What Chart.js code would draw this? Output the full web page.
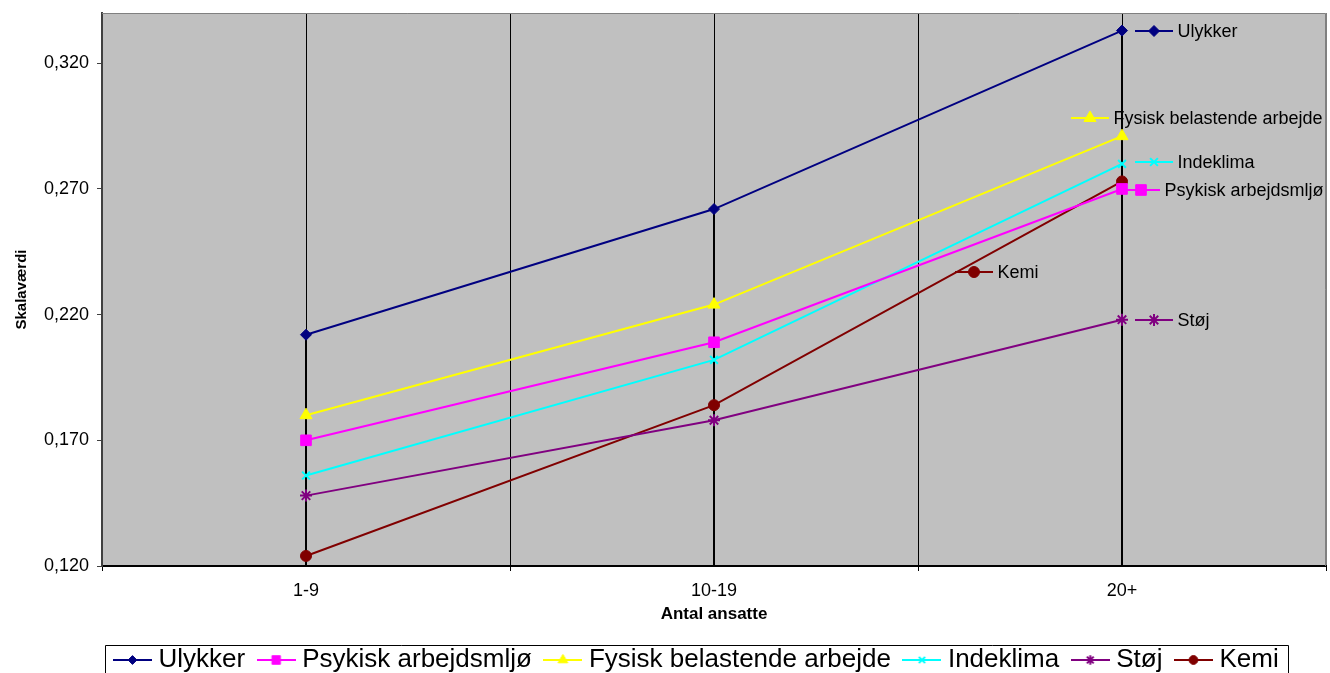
<!DOCTYPE html>
<html><head><meta charset="utf-8">
<script src="https://cdn.jsdelivr.net/npm/chart.js@4/dist/chart.umd.min.js"></script>
<style>html,body{margin:0;padding:0;background:#fff;overflow:hidden}
#wrap{position:relative;width:1330px;height:683px}</style>
</head><body><div id="wrap"><canvas id="c" width="1330" height="683"></canvas></div>
<script>
// ---- data ----
const categories = ['1-9', '10-19', '20+'];
const seriesNames = ['Ulykker', 'Psykisk arbejdsmljø', 'Fysisk belastende arbejde', 'Indeklima', 'Støj', 'Kemi'];
const ulykker   = [0.212, 0.262, 0.333];
const psykisk   = [0.170, 0.209, 0.270];
const fysisk    = [0.180, 0.224, 0.291];
const indeklima = [0.156, 0.202, 0.280];
const stoej     = [0.148, 0.178, 0.218];
const kemi      = [0.124, 0.184, 0.273];
const yTicks = [0.120, 0.170, 0.220, 0.270, 0.320];
const yMin = 0.12, yMax = 0.34;

// ---- styles ----
const FONT = "'Liberation Sans', Arial, sans-serif";
const seriesValues = [ulykker, psykisk, fysisk, indeklima, stoej, kemi];
const styles = [
  {color: '#000080', point: 'rectRot',  r: 5.5, bw: 1},
  {color: '#FF00FF', point: 'rect',     r: 7.5, bw: 1},
  {color: '#FFFF00', point: 'triangle', r: 7,   bw: 1},
  {color: '#00FFFF', point: 'crossRot', r: 5.5, bw: 2},
  {color: '#800080', point: 'star',     r: 6,   bw: 2},
  {color: '#800000', point: 'circle',   r: 5.5, bw: 1}
];
// offsets of the series-name labels from the last point (px)
const labelOffsets = [[32, 0], [19, 1], [-32, -18], [32, -2], [32, 0], [-148, 91]];

function makeKey(s, w, scale) {
  const c = document.createElement('canvas');
  c.width = w; c.height = 18;
  const g = c.getContext('2d');
  g.strokeStyle = s.color; g.lineWidth = 2;
  g.beginPath(); g.moveTo(0, 9); g.lineTo(w, 9); g.stroke();
  g.fillStyle = s.color; g.strokeStyle = s.color; g.lineWidth = s.bw;
  if (Chart.helpers && Chart.helpers.drawPoint) {
    Chart.helpers.drawPoint(g, {pointStyle: s.point, radius: s.r * scale, borderWidth: s.bw, rotation: 0}, w / 2, 9);
  } else {
    g.beginPath(); g.arc(w / 2, 9, s.r * scale, 0, Math.PI * 2); g.fill();
  }
  return c;
}
const legendKeys = styles.map(s => makeKey(s, 39, 0.8));
const plotKeys = styles.map(s => makeKey(s, 38, 1));

const datasets = seriesValues.map((vals, i) => ({
  label: seriesNames[i],
  data: vals.map((v, j) => ({x: j, y: v})),
  borderColor: styles[i].color,
  backgroundColor: styles[i].color,
  pointStyle: styles[i].point,
  pointRadius: styles[i].r,
  pointHoverRadius: styles[i].r,
  pointBorderWidth: styles[i].bw,
  pointBorderColor: styles[i].color,
  pointBackgroundColor: styles[i].color,
  borderWidth: 2,
  tension: 0,
  clip: false
}));

const plotDecor = {
  id: 'plotDecor',
  beforeDraw(chart) {
    const {ctx, chartArea: a} = chart;
    ctx.save();
    ctx.fillStyle = '#C0C0C0';
    ctx.fillRect(a.left, a.top, a.right - a.left, a.bottom - a.top);
    ctx.restore();
  },
  beforeDatasetsDraw(chart) {
    const {ctx, chartArea: a} = chart;
    const xs = chart.scales.x, ys = chart.scales.y;
    ctx.save();
    ctx.strokeStyle = '#808080'; ctx.lineWidth = 1;
    ctx.beginPath();
    ctx.moveTo(a.left, a.top + 0.5); ctx.lineTo(a.right - 0.5, a.top + 0.5); ctx.lineTo(a.right - 0.5, a.bottom);
    ctx.stroke();
    // drop lines from highest point to the category axis
    ctx.strokeStyle = '#000'; ctx.lineWidth = 2;
    categories.forEach((c, j) => {
      const top = Math.max(...seriesValues.map(s => s[j]));
      const x = Math.round(xs.getPixelForValue(j));
      ctx.beginPath();
      ctx.moveTo(x, ys.getPixelForValue(top));
      ctx.lineTo(x, a.bottom);
      ctx.stroke();
    });
    ctx.restore();
  },
  afterDatasetsDraw(chart) {
    const ctx = chart.ctx;
    ctx.save();
    ctx.font = '18px ' + FONT;
    ctx.fillStyle = '#000';
    ctx.textBaseline = 'middle';
    ctx.textAlign = 'left';
    chart.data.datasets.forEach((ds, i) => {
      const meta = chart.getDatasetMeta(i);
      const p = meta.data[meta.data.length - 1];
      const [dx, dy] = labelOffsets[i];
      const cx = p.x + dx, cy = p.y + dy;
      const k = plotKeys[i];
      ctx.drawImage(k, Math.round(cx - k.width / 2), Math.round(cy - k.height / 2));
      ctx.fillText(ds.label, cx + 23.5, cy + 1);
    });
    ctx.restore();
  },
  afterLayout(chart) {
    const lg = chart.legend;
    if (lg) { lg.left = 101.5; }
  },
  afterDraw(chart) {
    const lg = chart.legend;
    if (!lg || !lg.legendHitBoxes || !lg.legendHitBoxes.length) return;
    const hb = lg.legendHitBoxes;
    const first = hb[0], last = hb[hb.length - 1];
    const ctx = chart.ctx;
    ctx.save();
    ctx.strokeStyle = '#000'; ctx.lineWidth = 1;
    const l = Math.round(first.left - 14.5) + 0.5;
    const r = Math.round(last.left + last.width + 9) + 0.5;
    const t = Math.round(first.top - 2) + 0.5;
    ctx.beginPath();
    ctx.moveTo(l, chart.height + 5); ctx.lineTo(l, t); ctx.lineTo(r, t); ctx.lineTo(r, chart.height + 5);
    ctx.stroke();
    ctx.restore();
  }
};

new Chart(document.getElementById('c'), {
  type: 'line',
  data: {datasets},
  plugins: [plotDecor],
  options: {
    responsive: false,
    devicePixelRatio: 1,
    animation: false,
    events: [],
    layout: {autoPadding: false, padding: {top: 13, right: 4, left: 0, bottom: 0}},
    plugins: {
      tooltip: {enabled: false},
      legend: {
        position: 'bottom',
        align: 'start',
        labels: {
          usePointStyle: true,
          pointStyleWidth: 26,
          padding: 18,
          color: '#000',
          font: {family: FONT, size: 26},
          generateLabels: chart => Chart.defaults.plugins.legend.labels.generateLabels(chart)
            .map(it => Object.assign({}, it, {pointStyle: legendKeys[it.datasetIndex]}))
        }
      }
    },
    scales: {
      x: {
        type: 'linear',
        min: -0.5,
        max: categories.length - 0.5,
        afterBuildTicks: s => {
          const t = [];
          for (let k = -1; k <= (categories.length - 1) * 2 + 1; k++) t.push({value: k / 2});
          s.ticks = t;
        },
        afterFit: s => { s.height = 63; s.paddingLeft = 0; s.paddingRight = 0; },
        ticks: {
          autoSkip: false, maxRotation: 0, minRotation: 0, padding: 9,
          color: '#000', font: {family: FONT, size: 18},
          callback: v => Number.isInteger(v) ? categories[v] : ''
        },
        grid: {
          color: ctx => (ctx.tick && (ctx.tick.value === categories.length - 0.5)) ? '#808080' : '#000',
          lineWidth: 1,
          drawTicks: true,
          tickLength: 5,
          tickColor: ctx => (ctx.tick && Number.isInteger(ctx.tick.value)) ? 'rgba(0,0,0,0)' : '#000'
        },
        border: {display: true, color: '#000', width: 2},
        title: {display: true, text: 'Antal ansatte', color: '#000',
          font: {family: FONT, size: 17, weight: 'bold'}, padding: {top: 0, bottom: 4}}
      },
      y: {
        min: yMin, max: yMax,
        afterBuildTicks: s => { s.ticks = yTicks.map(v => ({value: v})); },
        afterFit: s => { s.width = 102; s.paddingTop = 0; s.paddingBottom = 0; },
        ticks: {padding: 8, color: '#000', font: {family: FONT, size: 18},
          callback: v => v.toFixed(3).replace('.', ',')},
        grid: {drawOnChartArea: false, drawTicks: true, tickLength: 5, color: '#404040'},
        border: {display: true, color: '#404040', width: 2},
        title: {display: true, text: 'Skalaværdi', color: '#000',
          font: {family: FONT, size: 15, weight: 'bold'}, padding: {top: 13, bottom: 0}}
      }
    }
  }
});
</script>
</body></html>
